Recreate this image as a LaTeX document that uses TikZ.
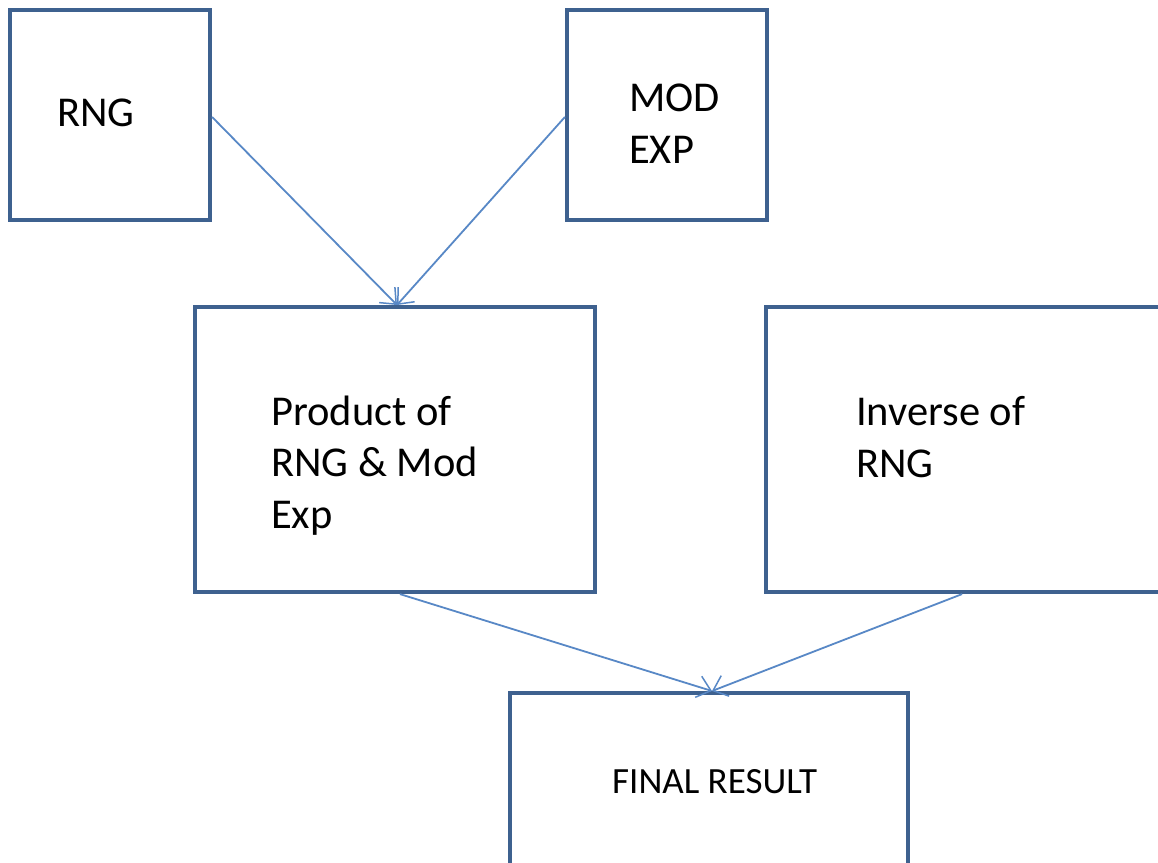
\documentclass[tikz,border=0pt]{standalone}
\usepackage{fontspec}
\setmainfont{Carlito}
\usetikzlibrary{arrows.meta}
\definecolor{boxblue}{RGB}{62,97,143}
\definecolor{arrowblue}{RGB}{88,136,198}
\tikzset{
  box/.style={draw=boxblue, line width=4.2pt, fill=none, inner sep=0pt, rectangle},
  lbl/.style={inner sep=0pt, anchor=base west, align=left, text=black,
              font={\fontsize{42.5}{51.5}\selectfont}},
  small/.style={font={\fontsize{37}{44}\selectfont}},
  conn/.style={draw=arrowblue, line width=1.8pt,
               -{Straight Barb[length=13pt,width=22pt,line width=1.5pt]}}
}
\begin{document}
\begin{tikzpicture}[x=1pt,y=-1pt]
\useasboundingbox (0,0) rectangle (1158,862);
\clip (0,0) rectangle (1158,862);
\fill[white] (0,0) rectangle (1158,862);
% boxes
\node[box, minimum width=200pt, minimum height=210pt] (rng) at (110,115) {};
\node[box, minimum width=200pt, minimum height=210pt] (mod) at (667,115) {};
\node[box, minimum width=400pt, minimum height=285pt] (prod) at (395,449.5) {};
\node[box, minimum width=420pt, minimum height=285pt] (inv) at (976,449.5) {};
\node[box, minimum width=398pt, minimum height=200pt] (fin) at (709,793) {};
% texts (anchor = baseline of the last line)
\node[lbl] (trng) at (57,126) {RNG};
\node[lbl] (tmod) at (629,163) {MOD\\EXP};
\node[lbl] (tprod) at (271,528) {Product of\\RNG \& Mod\\Exp};
\node[lbl] (tinv) at (856,477) {Inverse of\\RNG};
\node[lbl, small] (tfin) at (612,793) {FINAL RESULT};
% connectors
\coordinate (ptop) at (397,305);
\coordinate (ftop) at (712,691);
\draw[conn] (rng.east |- 0,117) -- (ptop);
\draw[conn] (mod.west |- 0,117) -- (ptop);
\draw[conn] (prod.south -| 400,0) -- (ftop);
\draw[conn] (inv.south -| 962,0) -- (ftop);
\end{tikzpicture}
\end{document}
